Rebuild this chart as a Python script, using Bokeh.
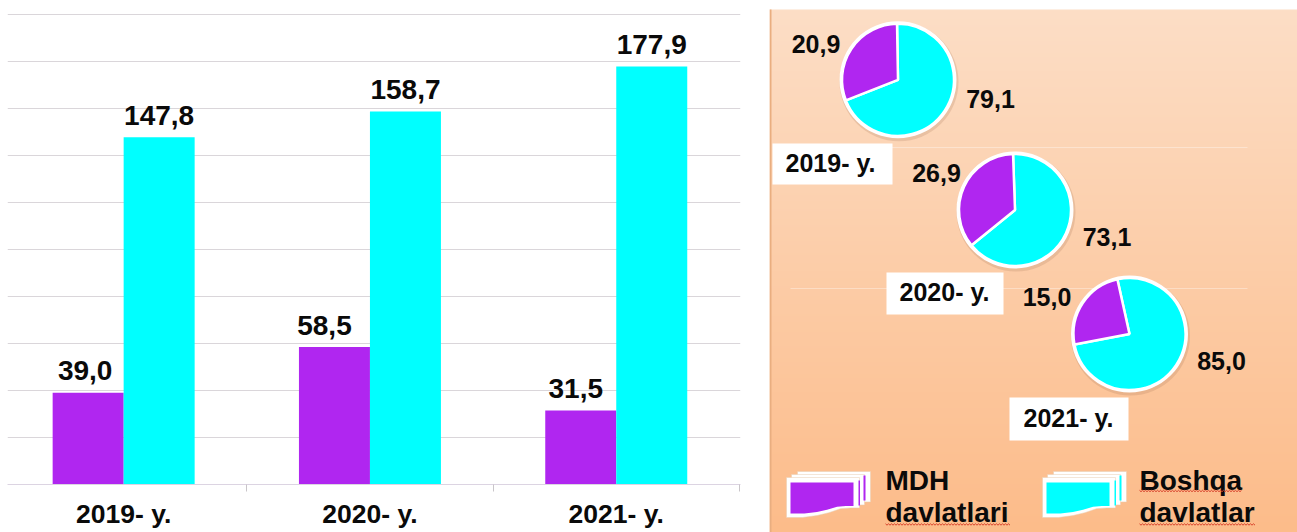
from bokeh.plotting import figure
from bokeh.layouts import row
from bokeh.models import Range1d, FixedTicker
from bokeh.core.properties import value
from bokeh.embed import file_html
from bokeh.resources import INLINE
import numpy as np
import math

# ---- data
years = ["2019- y.", "2020- y.", "2021- y."]
mdh = [39.0, 58.5, 31.5]
boshqa = [147.8, 158.7, 177.9]
mdh_labels = ["39,0", "58,5", "31,5"]
boshqa_labels = ["147,8", "158,7", "177,9"]
pie_mdh_labels = ["20,9", "26,9", "15,0"]
pie_other_labels = ["79,1", "73,1", "85,0"]
# share of the circle the purple slice actually occupies in the picture (%)
pie_drawn_mdh = [30.7, 35.3, 24.5]
pie_rotation_deg = [1, 2, 12.5]
grid_values = list(range(0, 201, 20))

# ---- styles / layout
PURPLE = "#B026F0"
CYAN = "#00FFFF"
FONT = value("Liberation Sans")
GRID = "#DAD6DA"
CAT_PX = 246.3
H = 532
def Y(page_y):
    return 532 - page_y

# ---- left: bars
p = figure(width=769, height=H, output_backend="svg", toolbar_location=None,
           x_range=Range1d(7 / CAT_PX, 740 / CAT_PX), y_range=Range1d(0, 200 + 1 / 2.35),
           min_border_left=7, min_border_right=29, min_border_top=13, min_border_bottom=48,
           frame_height=471, frame_width=733, frame_align=False,
           outline_line_color=None, background_fill_color="white", border_fill_color="white")
p.yaxis.visible = False
p.xgrid.visible = False
p.ygrid.ticker = FixedTicker(ticks=grid_values)
p.ygrid.grid_line_color = GRID
p.ygrid.grid_line_width = 1

xc = np.array([0.5, 1.5, 2.5])
bw = 71 / CAT_PX
p.vbar(x=xc - bw / 2, top=mdh, width=bw, bottom=0, fill_color=PURPLE, line_color=None)
p.vbar(x=xc + bw / 2, top=boshqa, width=bw, bottom=0, fill_color=CYAN, line_color=None)

ax = p.xaxis[0]
ax.ticker = FixedTicker(ticks=list(xc), minor_ticks=[1, 2, 3])
ax.major_label_overrides = {0.5: years[0], 1.5: years[1], 2.5: years[2]}
ax.major_tick_line_color = None
ax.major_tick_out = 0
ax.major_tick_in = 0
ax.minor_tick_in = 0
ax.minor_tick_out = 7
ax.minor_tick_line_color = "#C9C5C9"
ax.axis_line_color = "#DCD4E2"
ax.major_label_text_font = "Liberation Sans"
ax.major_label_text_font_style = "bold"
ax.major_label_text_font_size = "26.5px"
ax.major_label_text_color = "#0A0A0A"
ax.major_label_standoff = 7

label_opts = dict(text_font=FONT, text_font_style="bold", text_font_size="28px",
                  text_color="#0A0A0A", text_align="center", text_baseline="alphabetic",
                  y_offset=-22)
p.text(x=xc - bw / 2, y=mdh, text=mdh_labels, x_offset=[-3, -10, -5], **label_opts)
p.text(x=xc + bw / 2, y=boshqa, text=boshqa_labels, **label_opts)

# ---- right: panel (x in page px, y measured upward from the window's bottom)
q = figure(width=528, height=H, output_backend="svg", toolbar_location=None,
           x_range=Range1d(769, 1297), y_range=Range1d(0, H),
           min_border_left=0, min_border_right=0, min_border_top=0, min_border_bottom=0,
           frame_height=532, frame_width=528, frame_align=False,
           outline_line_color=None, background_fill_color="white", border_fill_color="white")
q.axis.visible = False
q.grid.visible = False

top_c = np.array([252, 222, 198]); bot_c = np.array([253, 188, 138])
rows = 262
img = np.zeros((rows, 1), dtype=np.uint32)
view = img.view(dtype=np.uint8).reshape((rows, 1, 4))
for i in range(rows):
    t = i / (rows - 1)          # row 0 is the bottom of the image
    c = bot_c * (1 - t) + top_c * t
    view[i, 0, :3] = c.astype(np.uint8)
    view[i, 0, 3] = 255
q.image_rgba(image=[img], x=769, y=0, dw=528, dh=Y(9))
q.quad(left=[769], right=[771], bottom=[0], top=[Y(9)], fill_color="#E9AE80", line_color=None)
q.segment(x0=[790, 790], x1=[1247, 1247], y0=[Y(147), Y(288)], y1=[Y(147), Y(288)],
          line_color="white", line_alpha=0.35, line_width=1)

# pies
cx = [897.5, 1014.5, 1129.0]
cy = [Y(79.3), Y(209.5), Y(333.5)]
R = 56
q.circle(x=[c + 1 for c in cx], y=[c - 2 for c in cy], radius=59.5, fill_color="#A07050",
         fill_alpha=0.2, line_color=None)
q.circle(x=cx, y=cy, radius=58.5, fill_color="white", line_color=None)
start = [math.radians(90 + r) for r in pie_rotation_deg]
split = [s + math.radians(360 * d / 100) for s, d in zip(start, pie_drawn_mdh)]
end = [s + 2 * math.pi for s in start]
q.wedge(x=cx, y=cy, radius=R, start_angle=split, end_angle=end, fill_color=CYAN,
        line_color="white", line_width=2.5)
q.wedge(x=cx, y=cy, radius=R, start_angle=start, end_angle=split, fill_color=PURPLE,
        line_color="white", line_width=2.5)

txt = dict(text_font=FONT, text_font_style="bold", text_color="#0A0A0A",
           text_baseline="alphabetic")
q.text(x=[815.5, 936, 1046.5], y=[Y(43), Y(172), Y(296)], text=pie_mdh_labels,
       text_align="center", text_font_size="25px", **txt)
q.text(x=[990, 1106.5, 1221], y=[Y(98), Y(236), Y(360)], text=pie_other_labels,
       text_align="center", text_font_size="25px", **txt)

# year boxes
q.quad(left=[772, 886, 1009], right=[892, 1003, 1128],
       top=[Y(143), Y(272), Y(397)], bottom=[Y(184), Y(314), Y(440)],
       fill_color="white", line_color=None)
q.text(x=[830, 944, 1068], y=[Y(162.5), Y(291.5), Y(417.5)], text=years,
       text_align="center", text_font_size="25px", **txt)

# legend icons: stacked sheets with a wavy lower edge
def sheet(x, y, w, h):
    fx = [0, 1, 1, .88, .74, .58, .42, .22, 0]
    fy = [0, 0, .76, .76, .78, .88, .95, 1.0, 1.0]
    return [x + w * a for a in fx], [Y(y + h * b) for b in fy]

for dx, col in [(0, PURPLE), (256, CYAN)]:
    for off_x, off_y in [(11, -6), (5, -3), (0, 0)]:
        xs, ys = sheet(786 + dx + off_x, 477 + off_y, 73, 40)
        q.patch(xs, ys, fill_color="white", line_color="#E8CDB0", line_width=0.5)
    xs, ys = sheet(790 + dx, 482, 63, 31)
    q.patch(xs, ys, fill_color=col, line_color=None)
    q.quad(left=[858 + dx, 863 + dx], right=[859.5 + dx, 865 + dx], top=[Y(480), Y(475)],
           bottom=[Y(505), Y(500)], fill_color=col, line_color=None)

q.text(x=[885, 885, 1139, 1139], y=[Y(480), Y(511.5), Y(480), Y(511.5)],
       text=["MDH", "davlatlari", "Boshqa", "davlatlar"],
       text_align="left", text_font_size="28px", **txt)

# red spell-check underlines (small zigzags)
def zigzag(x0, x1, page_y):
    xs = np.arange(x0, x1, 1.5)
    ys = np.array([Y(page_y + (0.7 if i % 2 else -0.7)) for i in range(len(xs))])
    return xs.tolist(), ys.tolist()

for x0, x1, py in [(885, 1010, 524), (1139, 1242, 490.5), (1139, 1255, 524)]:
    xs, ys = zigzag(x0, x1, py)
    q.line(xs, ys, line_color="#D8402A", line_width=1)

page = row(p, q, spacing=0)
open("out.html", "w").write(file_html(page, INLINE))
